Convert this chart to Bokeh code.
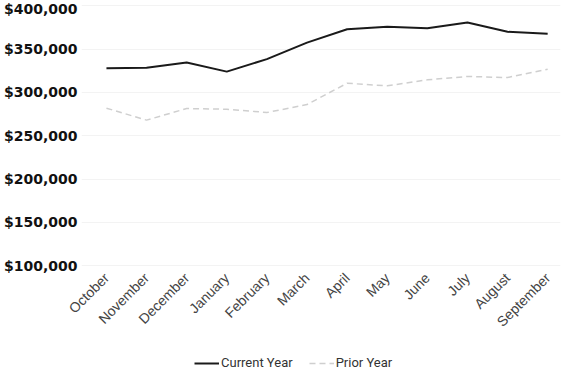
import math
from bokeh.plotting import figure
from bokeh.layouts import column
from bokeh.models import (Legend, LegendItem, NumeralTickFormatter, FixedTicker, Range1d)
from bokeh.embed import file_html
from bokeh.resources import INLINE

months = ["October", "November", "December", "January", "February", "March",
          "April", "May", "June", "July", "August", "September"]
current_year = [328000, 328500, 334500, 324000, 338500, 357500,
                373000, 375800, 374200, 380800, 370000, 367700]
prior_year = [281800, 268000, 281400, 280600, 276800, 286000,
              310600, 307600, 314500, 318400, 317200, 326800]
y_ticks = [100000, 150000, 200000, 250000, 300000, 350000, 400000]

x = list(range(len(months)))

CUR_COLOR, PRI_COLOR = "#1a1a1a", "#cfcfcf"

p = figure(width=565, height=345, output_backend="svg", toolbar_location=None,
           x_range=Range1d(-0.622, 11.32), y_range=Range1d(90900, 405000),
           min_border_left=80, min_border_right=5, min_border_top=1,
           min_border_bottom=72)
p.outline_line_color = None
p.background_fill_color = "white"
p.border_fill_color = "white"

p.xgrid.grid_line_color = None
p.ygrid.grid_line_color = "#f3f3f3"
p.ygrid.ticker = FixedTicker(ticks=y_ticks)

p.line(x, current_year, line_color=CUR_COLOR, line_width=2)
p.line(x, prior_year, line_color=PRI_COLOR, line_width=1.5, line_dash="6 4")

ya = p.yaxis[0]
ya.ticker = FixedTicker(ticks=y_ticks)
ya.formatter = NumeralTickFormatter(format="$0,0")
ya.axis_line_color = None
ya.major_tick_line_color = None
ya.minor_tick_line_color = None
ya.major_tick_out = 0
ya.major_tick_in = 0
ya.minor_tick_out = 0
ya.major_label_standoff = 4
ya.major_label_text_font = "DejaVu Sans"
ya.major_label_text_font_style = "bold"
ya.major_label_text_font_size = "14px"
ya.major_label_text_color = "#111111"

xa = p.xaxis[0]
xa.ticker = FixedTicker(ticks=x)
xa.major_label_overrides = {i: m for i, m in enumerate(months)}
xa.major_label_orientation = math.pi / 4
xa.axis_line_color = None
xa.major_tick_line_color = None
xa.minor_tick_line_color = None
xa.major_tick_out = 0
xa.major_tick_in = 0
xa.minor_tick_out = 0
xa.minor_tick_in = 0
xa.major_label_standoff = 2
xa.major_label_text_font = "Liberation Sans"
xa.major_label_text_font_size = "14px"
xa.major_label_text_color = "#444444"

# Legend strip below the chart (its lines lie outside its visible range)
leg = figure(width=565, height=28, output_backend="svg", toolbar_location=None,
             x_range=Range1d(0, 1), y_range=Range1d(0, 1),
             x_axis_location=None, y_axis_location=None,
             min_border_left=0, min_border_right=0, min_border_top=0,
             min_border_bottom=0)
leg.outline_line_color = None
leg.xgrid.visible = False
leg.ygrid.visible = False
lr_cur = leg.line(x, current_year, line_color=CUR_COLOR, line_width=2)
lr_pri = leg.line(x, prior_year, line_color=PRI_COLOR, line_width=1.5, line_dash="6 4")

legend = Legend(items=[LegendItem(label="Current Year", renderers=[lr_cur]),
                       LegendItem(label="Prior Year", renderers=[lr_pri])],
                orientation="horizontal", location=(113, 3),
                glyph_width=25, glyph_height=14, label_height=14,
                label_standoff=2, spacing=16,
                label_text_font="Roboto", label_text_font_size="13px",
                label_text_color="#333333", border_line_color=None,
                background_fill_alpha=0, padding=0, margin=0)
leg.add_layout(legend, "center")

layout = column(p, leg, spacing=0)

open("out.html", "w").write(file_html(layout, INLINE))
